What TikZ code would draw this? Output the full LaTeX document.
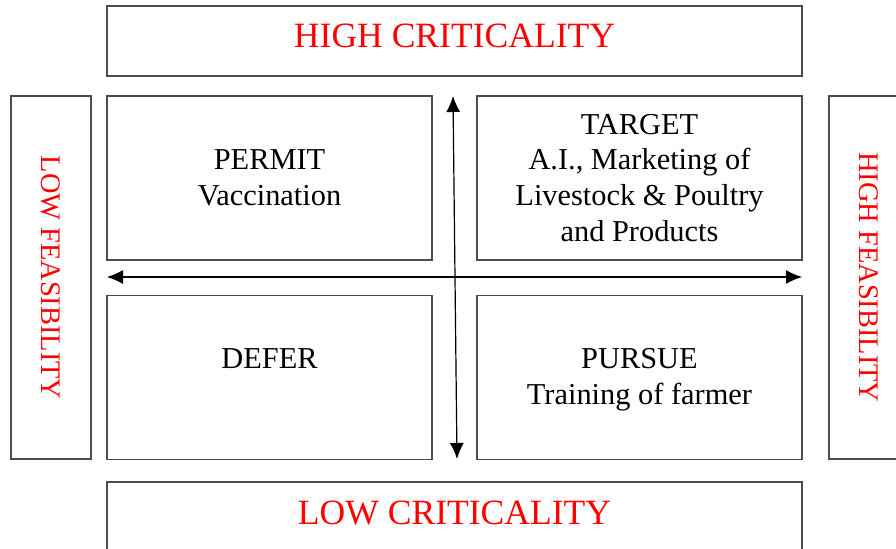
\documentclass[tikz,border=0pt]{standalone}
\usepackage{fontspec}
\setmainfont{Liberation Serif}
\usetikzlibrary{arrows.meta}

\tikzset{
  quad/.style={draw=black!70, line width=1.2bp, minimum width=325bp, minimum height=164bp, inner sep=0pt, align=center, font=\fontsize{30.5}{36}\selectfont},
  band/.style={draw=black!70, line width=1.2bp, minimum width=695bp, minimum height=70bp, inner sep=0pt, text=red, text height=24bp, text depth=10bp, font=\fontsize{35.7}{40}\selectfont},
  side/.style={draw=black!70, line width=1.2bp, minimum width=363bp, minimum height=80bp, inner sep=0pt, rotate=-90, text=red, font=\fontsize{28.5}{34}\selectfont},
  axis/.style={line width=1.2bp, {Latex[length=16bp,width=14bp]}-{Latex[length=16bp,width=14bp]}}
}

\begin{document}
\begin{tikzpicture}[x=1bp, y=-1bp]
\useasboundingbox (0,0) rectangle (896,549);
\clip (0,0) rectangle (896,549);

% bands round the grid
\node at (454.5, 41) (hicrit) [band] {HIGH CRITICALITY};
\node at (454.5, 517) (locrit) [band] {LOW CRITICALITY};
\node at (51, 277.5) (lofeas) [side] {LOW FEASIBILITY};
\node at (869, 277.5) (hifeas) [side] {HIGH FEASIBILITY};

% the four quadrants
\node at (269.5, 178) (permit) [quad] {PERMIT\\Vaccination};
\node at (639.5, 178) (target) [quad] {TARGET\\A.I., Marketing of\\Livestock \& Poultry\\and Products};
\node at (269.5, 377.5) (defer) [quad, text depth=2bp] {DEFER\\~};
\node at (639.5, 377.5) (pursue) [quad, text depth=2bp] {PURSUE\\Training of farmer};

% axes
\coordinate (xl) at (107, 277);
\coordinate (xr) at (802, 277);
\coordinate (yt) at (453, 96);
\coordinate (yb) at (457, 459);
\draw[axis] (xl) -- (xr);
\draw[axis] (yt) -- (yb);
\end{tikzpicture}
\end{document}
